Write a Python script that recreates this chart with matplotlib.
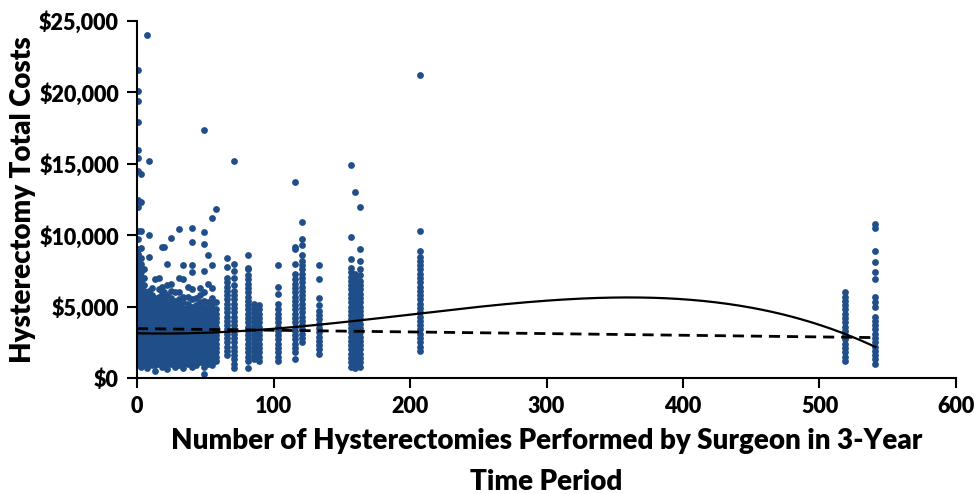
import matplotlib
matplotlib.use("Agg")
import matplotlib.pyplot as plt
import numpy as np
from matplotlib.ticker import FuncFormatter

# ---- data (costs in $ thousands) ----
surgeon_volume = [1, 3, 5, 7, 9, 11, 13, 16, 18, 20, 22, 25, 28, 31, 34, 37, 40, 43, 46, 49, 52, 55, 58,
                  66, 71, 81, 86, 89, 103, 116, 121, 133, 157, 160, 163, 207, 519, 541]

costs_k = [
    [0.9,1.2,1.5,1.8,2.1,2.4,2.7,3.0,3.3,3.6,3.9,4.2,4.5,4.8,5.1,5.4,5.7,6.0,6.3,6.6,6.9,7.2,7.5,7.8,8.1,8.4,8.7,9.0,9.7,10.3,12.0,12.5,14.5,15.4,16.0,17.9,19.4,20.1,21.6],
    [0.8,1.1,1.4,1.7,2.0,2.3,2.6,2.9,3.2,3.5,3.8,4.1,4.4,4.7,5.0,5.3,5.6,5.9,6.2,6.5,6.8,7.1,7.4,7.7,8.0,8.4,9.1,10.3,12.3,14.3],
    [1.0,1.3,1.6,1.9,2.2,2.5,2.8,3.1,3.4,3.7,4.0,4.3,4.6,4.9,5.2,5.5,5.8,6.1,6.5,7.0,7.6],
    [0.7,1.0,1.3,1.6,1.9,2.2,2.5,2.8,3.1,3.4,3.7,4.0,4.3,4.6,4.9,5.2,5.6,6.0,24.0],
    [1.1,1.4,1.7,2.0,2.3,2.6,2.9,3.2,3.5,3.8,4.1,4.4,4.7,5.0,5.3,5.6,6.1,8.5,10.0,15.2],
    [0.9,1.2,1.5,1.8,2.1,2.4,2.7,3.0,3.3,3.6,3.9,4.2,4.5,4.8,5.1,5.4,5.8,6.3],
    [0.5,0.9,1.2,1.5,1.8,2.1,2.4,2.7,3.0,3.3,3.6,3.9,4.2,4.5,4.8,5.2,5.6,6.9],
    [1.0,1.3,1.6,1.9,2.2,2.5,2.8,3.1,3.4,3.7,4.0,4.3,4.6,4.9,5.3,5.7,6.2,7.0],
    [0.8,1.1,1.4,1.7,2.0,2.3,2.6,2.9,3.2,3.5,3.8,4.1,4.4,4.7,5.0,5.4,5.9,6.4,9.2],
    [0.9,1.2,1.5,1.8,2.1,2.4,2.7,3.0,3.3,3.6,3.9,4.2,4.5,4.8,5.1,5.5,6.0,9.2],
    [0.6,1.0,1.3,1.6,1.9,2.2,2.5,2.8,3.1,3.4,3.7,4.0,4.3,4.6,4.9,5.3,5.8,6.5,8.0],
    [1.0,1.3,1.6,1.9,2.2,2.5,2.8,3.1,3.4,3.7,4.0,4.3,4.6,4.9,5.2,5.6,6.1,6.6,9.8],
    [0.8,1.1,1.4,1.7,2.0,2.3,2.6,2.9,3.2,3.5,3.8,4.1,4.4,4.7,5.0,5.4,6.0],
    [0.9,1.2,1.5,1.8,2.1,2.4,2.7,3.0,3.3,3.6,3.9,4.2,4.5,4.8,5.1,5.5,6.0,7.0,10.4],
    [0.7,1.0,1.3,1.6,1.9,2.2,2.5,2.8,3.1,3.4,3.7,4.0,4.3,4.6,4.9,5.3,5.7,6.9,7.9],
    [1.0,1.3,1.6,1.9,2.2,2.5,2.8,3.1,3.4,3.7,4.0,4.3,4.6,4.9,5.2,5.7,6.4],
    [0.8,1.1,1.4,1.7,2.0,2.3,2.6,2.9,3.2,3.5,3.8,4.1,4.4,4.7,5.0,5.5,6.2,7.4,7.9,9.5,10.5],
    [0.9,1.2,1.5,1.8,2.1,2.4,2.7,3.0,3.3,3.6,3.9,4.2,4.5,4.8,5.1,5.6],
    [1.1,1.4,1.7,2.0,2.3,2.6,2.9,3.2,3.5,3.8,4.1,4.4,4.7,5.0,5.3,5.8,6.3],
    [0.3,0.8,1.1,1.4,1.7,2.0,2.3,2.6,2.9,3.2,3.5,3.8,4.1,4.4,4.7,5.0,5.4,6.0,7.5,9.4,10.2,17.4],
    [1.0,1.3,1.6,1.9,2.2,2.5,2.8,3.1,3.4,3.7,4.0,4.3,4.6,4.9,5.3,6.6,8.6],
    [0.9,1.2,1.5,1.8,2.1,2.4,2.7,3.0,3.3,3.6,3.9,4.2,4.5,4.8,5.2,5.6,6.3,7.9,11.2],
    [1.2,1.5,1.8,2.1,2.4,2.7,3.0,3.3,3.6,3.9,4.2,4.5,4.8,5.3,11.8],
    [1.6,1.9,2.2,2.5,2.8,3.1,3.4,3.7,4.0,4.3,4.6,4.9,5.2,5.5,5.8,6.1,6.4,6.7,7.0,7.8,8.4],
    [0.7,1.0,1.3,1.6,1.9,2.2,2.5,2.8,3.1,3.4,3.7,4.0,4.3,4.6,4.9,5.2,5.5,5.8,6.1,6.5,7.0,7.5,8.0,15.2],
    [0.7,1.2,1.5,1.8,2.1,2.4,2.7,3.0,3.3,3.6,3.9,4.2,4.5,4.8,5.1,5.4,5.7,6.0,6.3,6.6,6.9,7.2,7.6,7.7,8.6],
    [1.3,1.6,1.9,2.2,2.5,2.8,3.1,3.4,3.7,4.0,4.3,4.6,4.9,5.2],
    [1.2,1.5,1.8,2.1,2.4,2.7,3.0,3.3,3.6,3.9,4.2,4.5,4.8,5.1],
    [1.2,1.5,1.8,2.1,2.4,2.7,3.0,3.3,3.6,3.9,4.2,4.5,4.8,5.2,5.9,6.4,7.9],
    [1.3,1.8,2.1,2.4,2.7,3.0,3.3,3.6,3.9,4.2,4.5,4.8,5.1,5.4,5.7,6.0,6.3,6.6,6.9,7.3,8.0,9.0,9.2,13.7],
    [2.5,2.8,3.1,3.4,3.7,4.0,4.3,4.6,4.9,5.2,5.5,5.8,6.1,6.4,6.7,7.0,7.3,7.6,7.9,8.2,8.6,9.3,9.7,10.9],
    [1.7,2.0,2.3,2.6,2.9,3.2,3.5,3.8,4.1,4.4,4.7,5.1,5.6,6.9,7.9],
    [0.8,1.1,1.4,1.7,2.0,2.3,2.6,2.9,3.2,3.5,3.8,4.1,4.4,4.7,5.0,5.3,5.6,5.9,6.2,6.5,6.8,7.1,7.4,7.7,8.3,9.9,14.9],
    [0.7,1.0,1.3,1.6,1.9,2.2,2.5,2.8,3.1,3.4,3.7,4.0,4.3,4.6,4.9,5.2,5.5,5.8,6.1,6.4,6.7,7.0,7.3,13.0],
    [0.8,1.1,1.4,1.7,2.0,2.3,2.6,2.9,3.2,3.5,3.8,4.1,4.4,4.7,5.0,5.3,5.6,5.9,6.2,6.5,6.8,7.2,7.6,8.2,9.0,12.0],
    [1.9,2.2,2.5,2.8,3.1,3.4,3.7,4.0,4.3,4.6,4.9,5.2,5.5,5.8,6.1,6.4,6.7,7.0,7.3,7.6,7.9,8.2,8.5,8.9,10.3,21.2],
    [1.2,1.5,1.8,2.1,2.4,2.7,3.0,3.3,3.6,3.9,4.2,4.5,4.8,5.1,5.4,5.7,6.0],
    [1.0,1.3,1.6,1.9,2.2,2.5,2.8,3.1,3.4,3.7,4.0,4.3,5.0,5.3,5.7,6.9,7.4,8.1,8.9,10.5,10.8],
]

# fitted curves
curve_x = [0, 50, 100, 150, 200, 250, 300, 350, 400, 450, 500, 541]
curve_y = [3150, 3150, 3400, 3950, 4450, 5000, 5400, 5600, 5500, 4950, 3750, 2150]
linear_x = [0, 541]
linear_y = [3460, 2830]

x_ticks = [0, 100, 200, 300, 400, 500, 600]
y_ticks = [0, 5000, 10000, 15000, 20000, 25000]

# ---- plot ----
plt.rcParams['font.family'] = ['Lato', 'DejaVu Sans']

fig = plt.figure(figsize=(9.74, 4.94), dpi=100)
ax = fig.add_axes([0.1407, 0.2348, 0.8408, 0.7227])

xs, ys = [], []
for v, cs in zip(surgeon_volume, costs_k):
    for c in cs:
        xs.append(v)
        ys.append(c * 1000)
ax.scatter(xs, ys, s=24, color='#1F4E89', linewidths=0, zorder=2)

# smooth curve through read points
coef = np.polyfit(curve_x, curve_y, 4)
cx = np.linspace(curve_x[0], curve_x[-1], 300)
ax.plot(cx, np.polyval(coef, cx), color='black', lw=1.6, zorder=3)
ax.plot(linear_x, linear_y, color='black', lw=2.0, ls=(0, (4, 2.5)), zorder=3)

ax.set_xlim(0, 600)
ax.set_ylim(0, 25000)
ax.set_xticks(x_ticks)
ax.set_yticks(y_ticks)
ax.yaxis.set_major_formatter(FuncFormatter(lambda v, p: f"${int(v):,}"))
for s in ['top', 'right']:
    ax.spines[s].set_visible(False)
for s in ['left', 'bottom']:
    ax.spines[s].set_linewidth(1.5)
ax.tick_params(axis='both', direction='out', length=7, width=1.5, labelsize=15.5, pad=6)
for lab in ax.get_xticklabels() + ax.get_yticklabels():
    lab.set_fontweight('heavy')

ax.set_ylabel('Hysterectomy Total Costs', fontsize=20, fontweight='heavy', labelpad=2)
ax.set_xlabel('Number of Hysterectomies Performed by Surgeon in 3-Year\nTime Period',
              fontsize=20, fontweight='heavy', labelpad=8, linespacing=1.7)

fig.savefig('out.png', dpi=100)
